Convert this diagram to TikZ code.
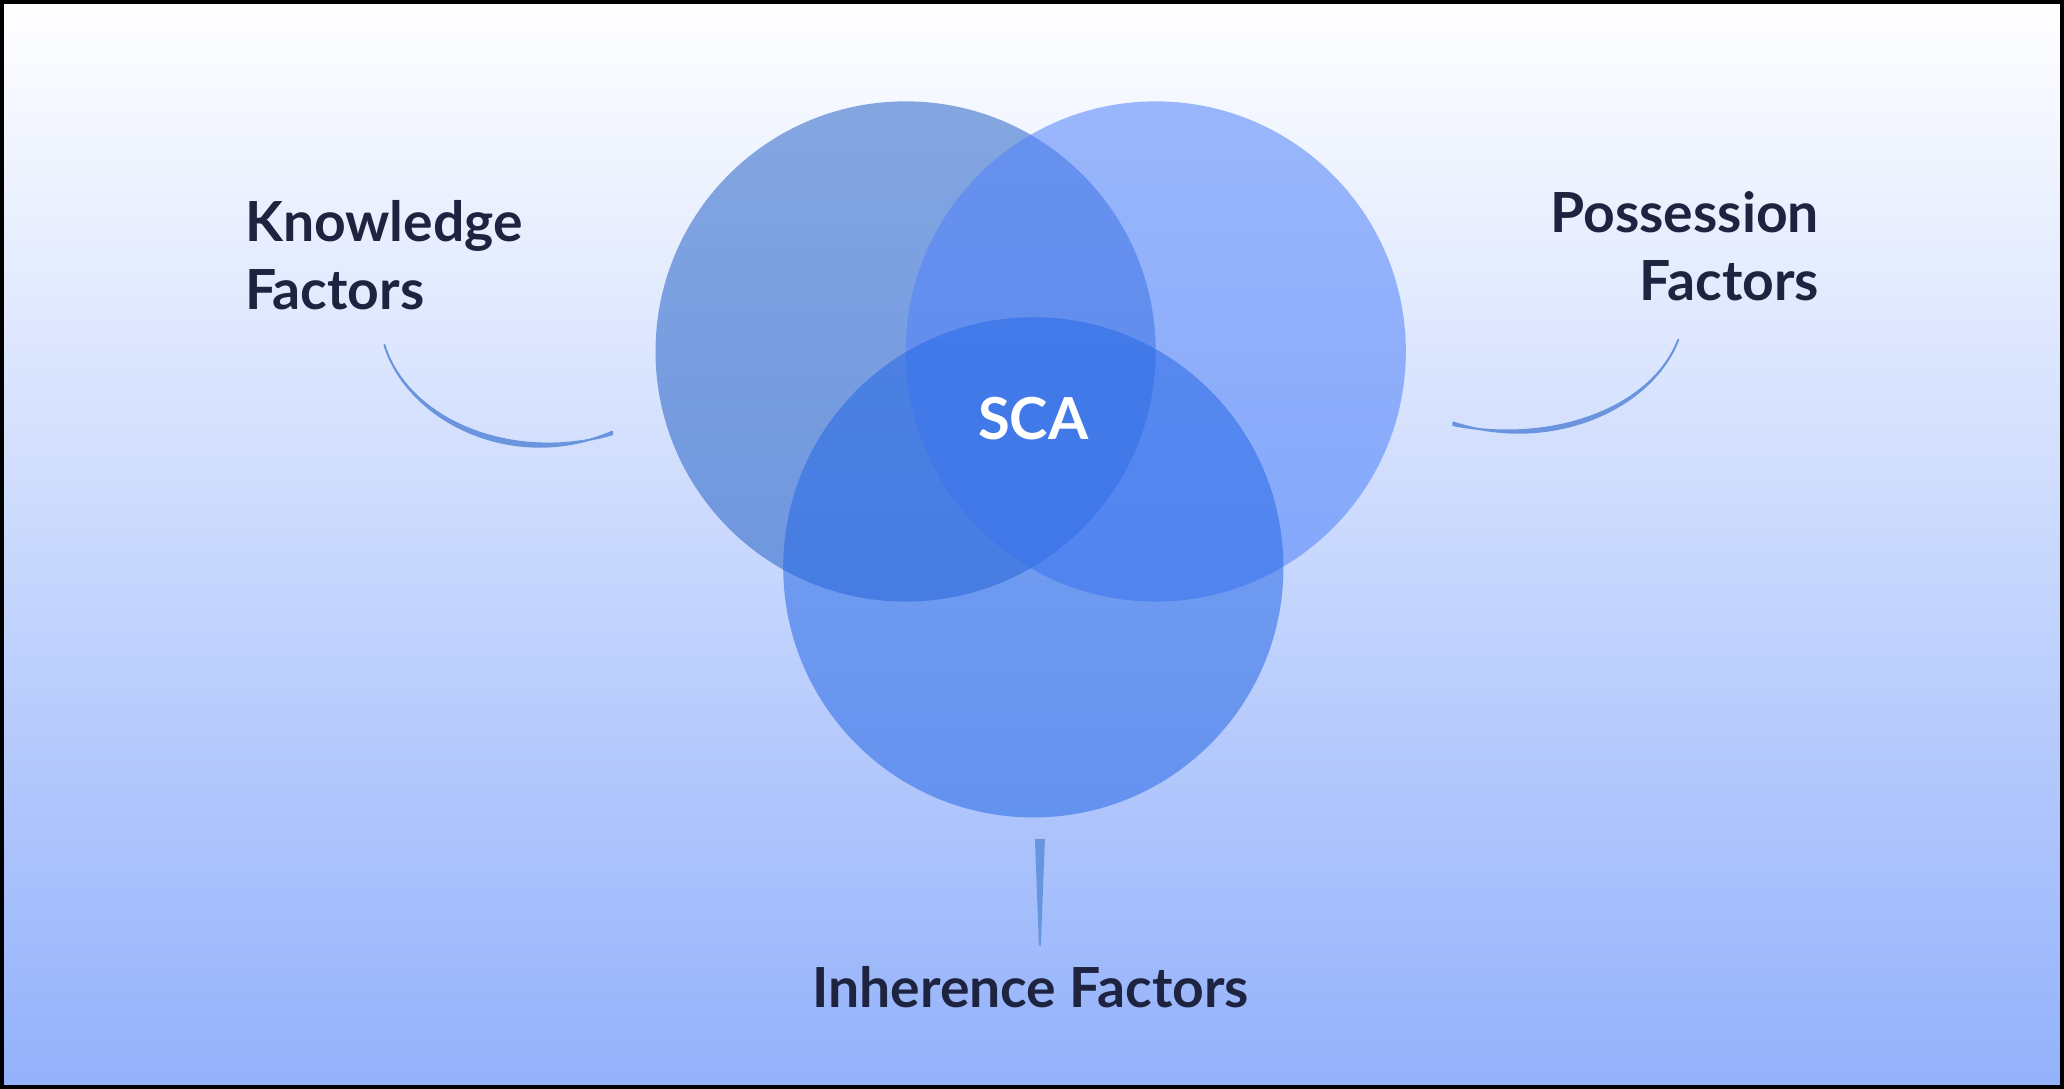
\documentclass[tikz,border=0pt]{standalone}
\usepackage{fontspec}
\setmainfont{Lato}
\begin{document}
\begin{tikzpicture}[x=1pt,y=-1pt,
  lbl/.style={text=labelc,font=\fontsize{42}{52}\selectfont\bfseries,inner sep=0pt},
  venn/.style={fill opacity=0.55},
  swoosh/.style={fill=swc,draw=swc,line width=1.5pt,line cap=round,line join=round}]
\definecolor{labelc}{HTML}{1E2440}
\definecolor{bgbot}{HTML}{93B1FB}
\definecolor{swc}{HTML}{6A94DE}
\useasboundingbox (0,0) rectangle (1568,827);
\shade[top color=white,bottom color=bgbot] (0,0) rectangle (1568,827);
\fill[venn,fill={rgb,255:red,40;green,100;blue,200}] (688,267) circle (190);
\fill[venn,fill={rgb,255:red,80;green,130;blue,250}] (878,267) circle (190);
\fill[venn,fill={rgb,255:red,40;green,105;blue,230}] (785,431) circle (190);
\node[text=white,font=\fontsize{44}{52}\selectfont\bfseries] (sca) at (785,318) {SCA};
\node[lbl,align=left,anchor=north west] (k) at (186,152) {Knowledge\\Factors};
\node[lbl,align=right,anchor=north east] (p) at (1382,145) {Possession\\Factors};
\node[lbl,anchor=base] (i) at (783,765) {Inherence Factors};
\coordinate (ka) at (292,262);
\coordinate (kb) at (465,330);
\coordinate (pa) at (1275,258);
\coordinate (pb) at (1104,323);
\coordinate (ia) at (790,638);
\coordinate (ib) at (790,718);
\path[swoosh] (ka) .. controls (310,320) and (390,360) .. (465,328) -- (kb) .. controls (390,352) and (310,320) .. (ka);
\path[swoosh] (pa) .. controls (1255,310) and (1180,345) .. (1104,321) -- (pb) .. controls (1180,338) and (1255,310) .. (pa);
\path[swoosh] (787,638) -- (793,638) -- (ib) -- cycle;
\draw[line width=6pt] (0,0) rectangle (1568,827);
\end{tikzpicture}
\end{document}
